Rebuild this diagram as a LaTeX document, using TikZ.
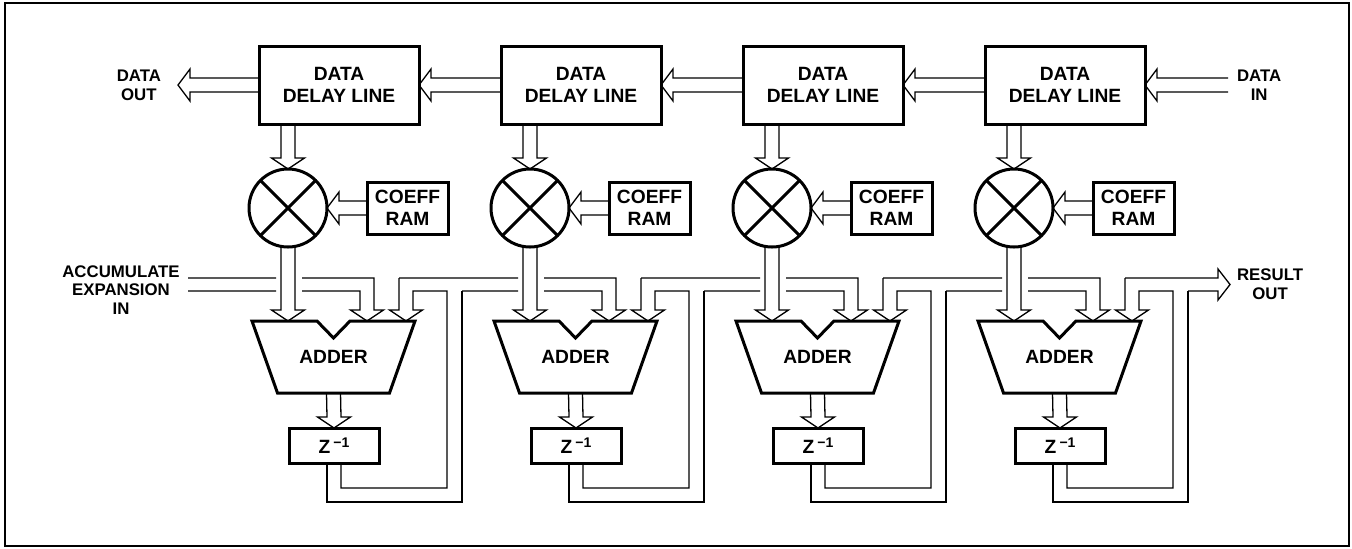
\documentclass[tikz,border=0pt]{standalone}
\usepackage{fontspec}
\setmainfont{Liberation Sans}
\usepackage{tikz}
\usetikzlibrary{positioning}
\usetikzlibrary{calc}

\newcommand{\unitfont}{\bfseries\fontsize{9.6}{11}\selectfont}
\newcommand{\tagfont}{\bfseries\fontsize{8.4}{9.4}\selectfont}
% hollow bus arrows: from, tip
\newcommand{\busdown}[2]{\draw[bus] ($(#1)+(-7,0)$) -- ($(#2)+(-7,-11)$) -- ($(#2)+(-16.5,-11)$) -- (#2) -- ($(#2)+(16.5,-11)$) -- ($(#2)+(7,-11)$) -- ($(#1)+(7,0)$);}
\newcommand{\busleft}[2]{\draw[bus] ($(#1)+(0,-7)$) -- ($(#2)+(12,-7)$) -- ($(#2)+(12,-16)$) -- (#2) -- ($(#2)+(12,16)$) -- ($(#2)+(12,7)$) -- ($(#1)+(0,7)$);}

\tikzset{
  unit/.style={draw, line width=1.5pt, outer sep=0pt, inner sep=0pt, align=center, font=\unitfont},
  tag/.style={align=center, font=\tagfont},
  bus/.style={line width=0.65pt},
  outline/.style={line width=1.5pt},
}

\begin{document}
\begin{tikzpicture}[x=0.5pt,y=-0.5pt]
\useasboundingbox (0,0) rectangle (1352,548);
\draw[line width=1.2pt] (5,3) rectangle (1349,546);

\coordinate (ot0) at (188,278);
\coordinate (ob0) at (188,291);

\foreach \i in {1,...,4} {
  \pgfmathsetmacro\x{242*(\i-1)}
  \pgfmathtruncatemacro\h{\i-1}
  \node[unit, minimum width=80pt, minimum height=39pt] (dl\i) at (339+\x,85) {DATA\\DELAY LINE};
  \node[unit, circle, minimum size=39pt] (mul\i) at (288+\x,208) {};
  \draw[outline] (mul\i.45) -- (mul\i.225) (mul\i.135) -- (mul\i.315);
  \node[unit, minimum width=40.5pt, minimum height=26pt] (coef\i) at (407.5+\x,208) {COEFF\\RAM};
  \node[font=\unitfont] (add\i) at (333.5+\x,357) {ADDER};
  \draw[outline] ($(add\i)+(-81.5,-36)$) -- ($(add\i)+(-16.5,-36)$) -- ($(add\i)+(0,-19)$) -- ($(add\i)+(16.5,-36)$) -- ($(add\i)+(81.5,-36)$) -- ($(add\i)+(56,36)$) -- ($(add\i)+(-56,36)$) -- cycle;
  \node[unit, minimum width=45pt, minimum height=17.5pt] (zd\i) at (334+\x,445.5) {Z\,\raisebox{0.55ex}{\fontsize{7}{7}\selectfont\char"2212 1}};
  \coordinate (t2\i) at ($(add\i)+(33.5,-36)$);
  \coordinate (t3\i) at ($(add\i)+(72.5,-36)$);
  \coordinate (ot\i) at ($(t3\i)+(-7,-43)$);
  \coordinate (ob\i) at ($(t3\i)+(56,-30)$);
  % data and coefficient into the multiplier
  \busdown{dl\i.south -| mul\i}{mul\i.north}
  \busleft{coef\i.west}{mul\i.east}
  \busdown{mul\i.south}{mul\i |- t2\i}
  \busdown{$(add\i)+(0,36)$}{zd\i.north}
  % partial sum coming in from the left
  \draw[bus] (ot\h) -- ($(mul\i |- ot\h)+(-12,0)$)
    ($(mul\i |- ot\h)+(14,0)$) -- ($(t2\i)+(7,-43)$) -- ($(t2\i)+(7,-11)$) -- ($(t2\i)+(16.5,-11)$) -- (t2\i) -- ($(t2\i)+(-16.5,-11)$) -- ($(t2\i)+(-7,-11)$) -- ($(t2\i)+(-7,-30)$) -- ($(mul\i |- ob\h)+(14,0)$)
    ($(mul\i |- ob\h)+(-12,0)$) -- (ob\h);
  % feedback from the delay
  \draw[bus] (ot\i) -- ($(t3\i)+(-7,-11)$) -- ($(t3\i)+(-16.5,-11)$) -- (t3\i) -- ($(t3\i)+(16.5,-11)$) -- ($(t3\i)+(7,-11)$) -- ($(t3\i)+(7,-30)$) -- ($(t3\i)+(41,-30)$) -- ($(zd\i.south)+(113,25)$) -- ($(zd\i.south)+(7,25)$) -- ($(zd\i.south)+(7,0)$);
  \draw[bus] ($(zd\i.south)+(-7,0)$) -- ($(zd\i.south)+(-7,39)$) -- ($(zd\i.south)+(128,39)$) -- (ob\i);
}

\foreach \i/\j in {1/2,2/3,3/4} {\busleft{dl\j.west}{dl\i.east}}

\coordinate (dout) at (178,85);
\coordinate (din) at (1228,85);
\coordinate (rout) at (1230,284.5);
\busleft{dl1.west}{dout}
\busleft{din}{dl4.east}
\draw[bus] (ot4) -- ($(rout)+(-12,-6.5)$) -- ($(rout)+(-12,-15.5)$) -- (rout) -- ($(rout)+(-12,15.5)$) -- ($(rout)+(-12,6.5)$) -- (ob4);

\node[tag, left=5pt of dout] (doutl) {DATA\\OUT};
\node[tag, right=1pt of din] (dinl) {DATA\\IN};
\node[tag, right=0pt of rout] (routl) {RESULT\\OUT};
\node[tag] (accl) at (121,290) {ACCUMULATE\\EXPANSION\\IN};
\end{tikzpicture}
\end{document}
